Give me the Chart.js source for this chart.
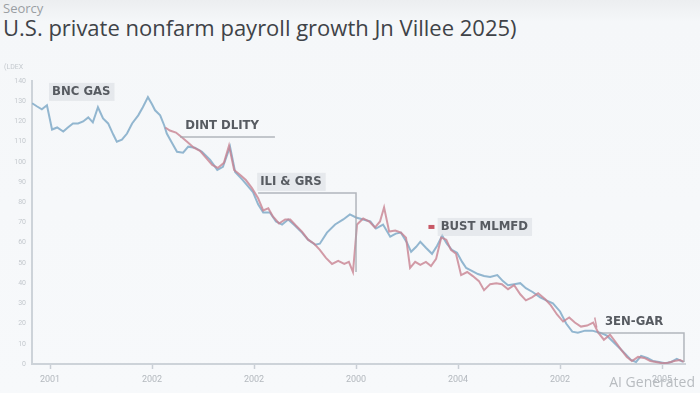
<!DOCTYPE html>
<html>
<head>
<meta charset="utf-8">
<script src="https://cdn.jsdelivr.net/npm/chart.js@4.4.0/dist/chart.umd.min.js"></script>
<style>
  html, body { margin: 0; padding: 0; }
  body { width: 700px; height: 393px; overflow: hidden; position: relative;
         background: linear-gradient(#eceef0 0px, #f5f7f9 22px, #f7f9fb 100%); font-family: "Open Sans", sans-serif; }
  #wrap { position: absolute; left: 0; top: 0; width: 700px; height: 393px; }
  .sub { position: absolute; left: 3px; top: -1px; font-size: 13px; color: #9a9ea3; }
  .ttl { position: absolute; left: 3px; top: 12px; font-size: 22px; color: #3f4348; letter-spacing: 0px; }
  .wm { position: absolute; right: 5px; top: 372px; font-size: 14px; color: #b8bcc0; }
</style>
</head>
<body>
<div class="sub">Seorcy</div>
<div class="ttl">U.S. private nonfarm payroll growth Jn Villee 2025)</div>
<div id="wrap"><canvas id="c" width="700" height="393"></canvas></div>
<div class="wm">AI Generated</div>
<script>
// ---- data ----
const yAxisTitle = "(LDEX";
const xTickValues = [0, 20, 40, 60, 80, 100, 120];
const xTickLabels = ["2001", "2002", "2002", "2000", "2004", "2002", "2005"];

const blueX = [-3.5,-2.6,-1.6,-0.6,0.4,1.4,2.6,3.5,4.5,5.5,6.5,7.5,8.4,9.4,10.4,11.4,12.4,13.1,14.1,15.1,16.1,17.3,18.2,19.2,20.0,20.6,21.6,22.4,22.9,23.9,24.9,26.1,27.1,28.4,29.8,31.4,32.8,33.9,35.3,36.3,37.8,39.8,40.8,41.8,43.1,44.3,45.5,46.7,48.0,49.4,50.6,52.0,52.9,54.3,55.9,57.5,58.8,60.0,61.4,62.8,63.9,65.3,66.7,67.8,68.8,70.0,70.8,71.8,72.6,73.7,74.9,75.9,76.9,77.8,78.8,79.8,80.8,81.6,82.8,83.9,85.1,86.3,87.7,88.8,89.8,91.0,92.2,93.3,94.7,96.1,97.3,98.6,100.0,101.2,102.4,103.5,104.9,106.3,107.8,109.2,110.4,111.6,112.8,113.9,114.9,115.9,117.1,118.2,119.4,120.6,121.8,122.9,124.1];
const blueY = [129,127.5,126,128,116,117,115,117,119,119,120,122,119.5,127,121.5,119,113.5,110,111,114,119,123,127,132,128.5,125.5,123,118,114,109.5,105,104.5,107.5,107,105,101,96,97.5,107.5,95,91,85,79,75,75,70.5,69,71.5,68.5,65,61.5,59,59.5,65,69,71.5,74,72.5,71.5,70.5,67,69,63,64.5,65,60,55.5,58,60.5,57.5,54.5,58.5,63.5,59.5,56.5,55,50.5,47.5,46,44.5,43.5,43,44,41,39,39.5,40,37.5,35.5,33,31.5,30,26,20,16,15.5,16.5,16.5,15.5,14,11,8,5,2,1,4,3,1.5,1,0.4,1,2.5,1];

const pinkX = [22.6,23.5,24.7,25.9,27.1,28.2,29.4,30.6,31.8,32.9,34.1,35.1,36.1,37.3,38.4,39.6,40.8,41.8,42.8,43.7,44.9,46.1,47.1,48.2,49.4,50.6,51.8,52.9,54.1,55.3,56.5,57.7,58.6,59.4,60.2,61.4,62.6,63.7,64.7,65.5,66.5,67.7,68.8,69.8,70.6,71.6,72.6,73.7,74.7,75.7,76.7,77.7,78.6,79.6,80.6,81.8,82.9,84.1,85.1,86.3,87.5,88.6,89.8,91.0,92.2,93.3,94.5,95.7,97.1,98.2,99.4,100.6,101.8,102.9,104.1,105.3,106.5,107.5,108.6,109.8,111.0,112.0,113.1,114.1,115.3,116.5,117.7,118.8,120.0,121.2,122.4,123.5,124.3];
const pinkY = [117,115.5,114.5,112,109.5,107,105.5,102,98.5,97,99.5,108,96,93.5,91,87,82,76,77,73,69.5,71.5,71.5,68.5,65.5,61.5,59.5,56.5,52.5,49.5,51,49.5,50.5,45.5,69,72,70.5,67.5,70.5,77.5,65.5,66,65,62.5,47.5,50.5,49,50.5,48.5,52,62.5,61.5,56.5,54.5,44,45.5,43.5,41,36.5,39.5,40,39.5,37,39,34.5,31.5,33,35,32,29,24.5,21,23,20.5,18.5,19,20.5,15.5,12,14.5,10.5,7,3.5,1.5,3.5,3,1.5,1,0.4,0.6,1.5,2,1];

// annotations in data coordinates
const annoLabels = ["BNC GAS", "DINT DLITY", "ILI & GRS", "BUST MLMFD", "3EN-GAR"];
const annoX = [0.4, 26.5, 41.2, 76.6, 108.8];
const annoY = [134.6, 117.8, 90.1, 67.8, 20.8];

const blueColor = "rgba(128,170,200,0.85)";
const pinkColor = "rgba(200,130,145,0.8)";

function pts(xs, ys) { return xs.map((x, i) => ({ x: x, y: ys[i] })); }

const annoPlugin = {
  id: "anno",
  afterDatasetsDraw(chart) {
    const ctx = chart.ctx, xs = chart.scales.x, ys = chart.scales.y;
    const X = v => xs.getPixelForValue(v), Y = v => ys.getPixelForValue(v);
    ctx.save();
    ctx.font = "600 13px 'DejaVu Sans Condensed', 'Roboto Condensed', Roboto, sans-serif";
    ctx.textBaseline = "middle";
    const lineCol = "rgba(160,165,172,0.8)";
    function label(i, bg) {
      const x = X(annoX[i]), y = Y(annoY[i]);
      const w = ctx.measureText(annoLabels[i]).width;
      if (bg) {
        ctx.fillStyle = "rgba(214,218,224,0.5)";
        ctx.fillRect(x - 3, y - 9, w + 7, 18);
      }
      ctx.fillStyle = "#575b61";
      ctx.fillText(annoLabels[i], x, y);
      return w;
    }
    label(0, true);
    label(1, false);
    ctx.strokeStyle = lineCol; ctx.lineWidth = 1.5;
    ctx.beginPath();
    ctx.moveTo(X(25.5), Y(112.3)); ctx.lineTo(X(44.1), Y(112.3)); ctx.stroke();
    label(2, true);
    ctx.beginPath();
    ctx.moveTo(X(40.8), Y(84.6)); ctx.lineTo(X(60.0), Y(84.6)); ctx.lineTo(X(60.0), Y(45.5)); ctx.stroke();
    label(3, true);
    ctx.fillStyle = "rgba(190,60,75,0.85)";
    ctx.fillRect(X(74.2), Y(annoY[3]) - 2, 6, 4);
    label(4, false);
    ctx.strokeStyle = lineCol;
    ctx.beginPath();
    ctx.moveTo(X(107.4), Y(15.3)); ctx.lineTo(X(124.3), Y(15.3)); ctx.lineTo(X(124.3), Y(1)); ctx.stroke();
    ctx.strokeStyle = "rgba(200,130,145,0.8)";
    ctx.beginPath();
    ctx.moveTo(X(106.8), Y(23)); ctx.lineTo(X(107.2), Y(18)); ctx.stroke();
    ctx.restore();
  }
};

new Chart(document.getElementById("c"), {
  type: "line",
  data: {
    datasets: [
      { data: pts(pinkX, pinkY), borderColor: pinkColor, borderWidth: 2, pointRadius: 0, tension: 0, fill: false },
      { data: pts(blueX, blueY), borderColor: blueColor, borderWidth: 2, pointRadius: 0, tension: 0, fill: false }
    ]
  },
  options: {
    responsive: false,
    animation: false,
    events: [],
    layout: { padding: { top: 81, right: 15, left: 0, bottom: 0 } },
    plugins: { legend: { display: false }, tooltip: { enabled: false } },
    scales: {
      x: {
        type: "linear", min: -3.53, max: 124.5,
        afterBuildTicks(s) { s.ticks = xTickValues.map(v => ({ value: v })); },
        afterFit(s) { s.height = 29; },
        grid: { color: "rgba(0,0,0,0)", tickColor: "#c9cfd5", tickLength: 5, drawTicks: true, tickWidth: 1.5 },
        border: { color: "#cdd3d9", width: 2 },
        ticks: {
          color: "#b3b8be", font: { size: 9, family: "Roboto" }, padding: 5, maxRotation: 0,
          callback: (v) => { const i = xTickValues.indexOf(v); return i >= 0 ? xTickLabels[i] : ""; }
        }
      },
      y: {
        min: 0, max: 140,
        afterFit(s) { s.width = 32; },
        grid: { color: "rgba(0,0,0,0)", drawTicks: false },
        border: { color: "#cdd3d9", width: 2 },
        ticks: { stepSize: 10, color: "#c4c9ce", font: { size: 7, family: "Roboto" }, padding: 6 },
        title: { display: false }
      }
    }
  },
  plugins: [annoPlugin, {
    id: "ytitle",
    afterDraw(chart) {
      const ctx = chart.ctx;
      ctx.save();
      ctx.font = "7px Roboto"; ctx.fillStyle = "#c4c9ce"; ctx.textBaseline = "middle";
      ctx.fillText(yAxisTitle, 4, chart.scales.y.top - 14);
      ctx.restore();
    }
  }]
});
</script>
</body>
</html>
